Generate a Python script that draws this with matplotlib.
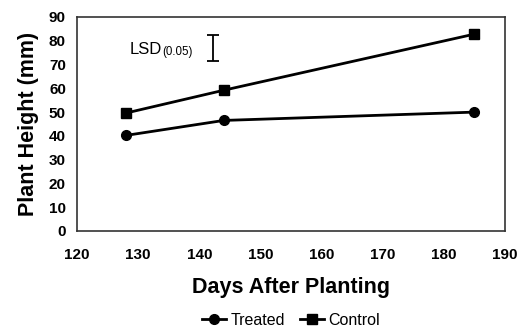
import matplotlib
matplotlib.use("Agg")
import matplotlib.pyplot as plt

days = [128, 144, 185]
treated = [40.2, 46.5, 50.0]
control = [49.6, 59.2, 82.8]
lsd_x = 142.2
lsd_center = 77.0
lsd_half = 5.5

plt.rcParams['font.family'] = ['Liberation Sans', 'DejaVu Sans']

fig = plt.figure(figsize=(5.19, 3.28), dpi=100)
ax = fig.add_axes([77/519, 1-231/328, (505-77)/519, (231-17)/328])

ax.plot(days, treated, color='black', lw=2, marker='o', ms=7, label='Treated')
ax.plot(days, control, color='black', lw=2, marker='s', ms=6.5, label='Control')
ax.errorbar([lsd_x], [lsd_center], yerr=[lsd_half], fmt='none', ecolor='black',
            elinewidth=1.3, capsize=4, capthick=1.3)
ax.text(128.6, 76.5, 'LSD', fontsize=12, va='center', ha='left')
ax.text(133.9, 75.2, '(0.05)', fontsize=8.3, va='center', ha='left')

ax.set_xlim(120, 190)
ax.set_ylim(0, 90)
ax.set_xticks(range(120, 191, 10))
ax.set_yticks(range(0, 91, 10))
ax.tick_params(length=0, labelsize=11)
ax.tick_params(axis='x', pad=12)
ax.tick_params(axis='y', pad=8)
for lab in ax.get_xticklabels() + ax.get_yticklabels():
    lab.set_fontweight('bold')
for s in ax.spines.values():
    s.set_color('#333333')
    s.set_linewidth(1.2)

ax.set_xlabel('Days After Planting', fontsize=15.5, fontweight='bold', labelpad=11)
ax.set_ylabel('Plant Height (mm)', fontsize=15.5, fontweight='bold', labelpad=7)

leg = ax.legend(loc='upper center', bbox_to_anchor=(0.5, -0.345), ncol=2, frameon=False,
                fontsize=11.5, handlelength=1.5, columnspacing=0.9, handletextpad=0.3,
                borderpad=0.0)

fig.savefig('out.png', dpi=100)
